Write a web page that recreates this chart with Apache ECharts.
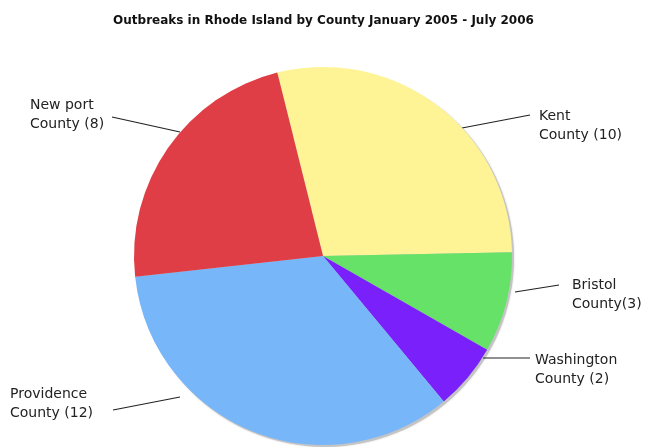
<!DOCTYPE html>
<html>
<head>
<meta charset="utf-8">
<script src="https://cdn.jsdelivr.net/npm/echarts@6/dist/echarts.min.js"></script>
<style>html,body{margin:0;padding:0;background:#fff}#c{width:647px;height:447px}</style>
</head>
<body>
<div id="c"></div>
<script>
// Data (clockwise order starting at the top)
var counties = ['Kent County', 'Bristol County', 'Washington County', 'Providence County', 'Newport County'];
var outbreaks = [10, 3, 2, 12, 8];
var labelTexts = ['Kent\nCounty (10)', 'Bristol\nCounty(3)', 'Washington\nCounty (2)', 'Providence\nCounty (12)', 'New port\nCounty (8)'];
var colors = ['#FEF496', '#66E268', '#7A20FA', '#78B6FA', '#E03E46'];

// Label placement (positions only)
var labelPos = [[539, 126], [572, 295], [535, 370], [10, 404], [30, 115]];
var guideStart = [[462, 128], [515, 292], [483, 358], [180, 397], [180, 132]];
var guideEnd = [[530, 115], [559, 285], [530, 358], [113, 410], [112, 117]];

var total = outbreaks.reduce(function (a, b) { return a + b; }, 0);

var chart = echarts.init(document.getElementById('c'));
chart.setOption({
  animation: false,
  title: {
    text: 'Outbreaks in Rhode Island by County January 2005 - July 2006',
    left: 'center',
    top: 10,
    textStyle: { fontFamily: 'DejaVu Sans', fontWeight: 'bold', fontSize: 12, color: '#111' }
  },
  series: [{
    // drop shadow disc behind the pie
    type: 'pie',
    silent: true,
    z: 1,
    center: [325, 258],
    radius: 189,
    label: { show: false },
    labelLine: { show: false },
    emphasis: { disabled: true },
    data: [{ name: 'shadow', value: total, itemStyle: { color: '#c4c4c4', shadowBlur: 2, shadowColor: 'rgba(0,0,0,0.2)' } }]
  }, {
    type: 'pie',
    z: 2,
    center: [323, 256],
    radius: 189,
    startAngle: 104,
    clockwise: true,
    avoidLabelOverlap: false,
    data: counties.map(function (n, i) {
      return { name: n, value: outbreaks[i], itemStyle: { color: colors[i] } };
    }),
    itemStyle: { borderWidth: 0 },
    label: {
      show: true,
      position: 'outside',
      formatter: function (p) { return labelTexts[p.dataIndex]; },
      fontFamily: 'DejaVu Sans',
      fontSize: 14,
      lineHeight: 19,
      color: '#222',
      align: 'left'
    },
    labelLine: {
      show: true,
      lineStyle: { color: '#222', width: 1.2 }
    },
    emphasis: { disabled: true },
    labelLayout: function (p) {
      var i = p.dataIndex;
      var s = guideStart[i], e = guideEnd[i];
      return {
        x: labelPos[i][0],
        y: labelPos[i][1],
        align: 'left',
        verticalAlign: 'middle',
        labelLinePoints: [s, [(s[0] + e[0]) / 2, (s[1] + e[1]) / 2], e]
      };
    }
  }]
});
</script>
</body>
</html>
